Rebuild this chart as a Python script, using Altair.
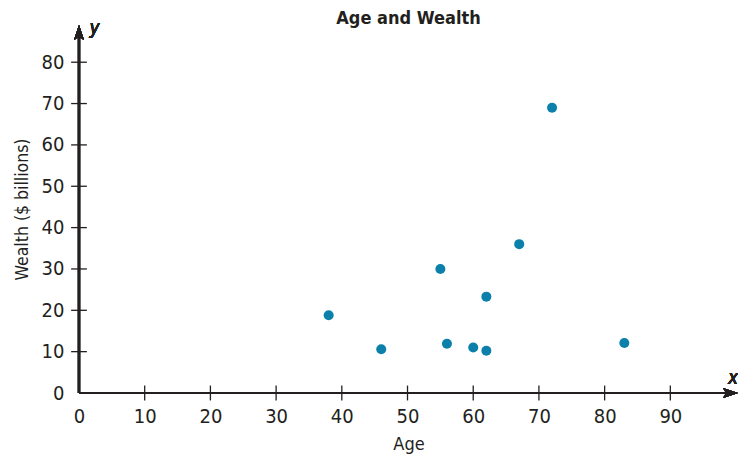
import altair as alt
import pandas as pd

# data
ages = [38, 46, 55, 56, 60, 62, 62, 67, 72, 83]
wealth = [18.8, 10.6, 30.0, 11.9, 11.0, 10.2, 23.3, 36.0, 69.0, 12.1]
x_ticks = [10, 20, 30, 40, 50, 60, 70, 80, 90]
y_ticks = [10, 20, 30, 40, 50, 60, 70, 80]
x_label_vals = [0, 10, 20, 30, 40, 50, 60, 70, 80, 90]
y_label_vals = [0, 10, 20, 30, 40, 50, 60, 70, 80]

XMAX = 100.3
YMAX = 89.0
W, H = 659, 368
FONT = "Liberation Sans Narrow, DejaVu Sans Condensed, Arial Narrow, sans-serif"
AX = "#231f20"
DOT = "#0b80aa"

pts = pd.DataFrame({"Age": ages, "Wealth": wealth})
xt = pd.DataFrame({"v": x_ticks})
yt = pd.DataFrame({"v": y_ticks})

xs = alt.Scale(domain=[0, XMAX], nice=False, zero=False)
ys = alt.Scale(domain=[0, YMAX], nice=False, zero=False)

xaxis = alt.Axis(values=x_label_vals, ticks=False, tickSize=0, domain=False, grid=False,
                 labelFlush=False, labelOverlap=False,
                 labelFont=FONT, labelFontSize=20, labelColor=AX, labelPadding=13,
                 title="Age", titleFont=FONT, titleFontSize=18, titleFontWeight="normal",
                 titleColor=AX, titlePadding=9)
yaxis = alt.Axis(values=y_label_vals, ticks=False, tickSize=0, domain=False, grid=False,
                 labelFlush=False, labelOverlap=False,
                 labelFont=FONT, labelFontSize=20, labelColor=AX, labelPadding=15,
                 title="Wealth ($ billions)", titleFont=FONT, titleFontSize=17.5,
                 titleFontWeight="normal", titleColor=AX, titlePadding=10)

points = alt.Chart(pts).mark_circle(size=100, opacity=1, color=DOT).encode(
    x=alt.X("Age:Q", scale=xs, axis=xaxis),
    y=alt.Y("Wealth:Q", scale=ys, axis=yaxis),
)

x_line = alt.Chart(pts).mark_rule(color=AX, strokeWidth=2.2).encode(
    x=alt.datum(0), x2=alt.datum(XMAX - 1.5), y=alt.datum(0))
y_line = alt.Chart(pts).mark_rule(color=AX, strokeWidth=2.2).encode(
    x=alt.datum(0), y=alt.datum(0), y2=alt.datum(YMAX - 2.5))

x_tick_marks = alt.Chart(xt).mark_rule(color=AX, strokeWidth=1.3).encode(
    x=alt.X("v:Q"), y=alt.datum(-1.8), y2=alt.datum(1.8))
y_tick_marks = alt.Chart(yt).mark_rule(color=AX, strokeWidth=1.3).encode(
    y=alt.Y("v:Q"), x=alt.datum(-1.2), x2=alt.datum(1.2))

arrow_right = "M0,0 L-2,-0.67 L-1.6,0 L-2,0.67 Z"
arrow_up = "M0,0 L-0.67,2 L0,1.6 L0.67,2 Z"

x_arrow = alt.Chart(pts).mark_point(shape=arrow_right, filled=True, opacity=1,
                                    size=225, color=AX, strokeWidth=0).encode(
    x=alt.datum(XMAX), y=alt.datum(0))
y_arrow = alt.Chart(pts).mark_point(shape=arrow_up, filled=True, opacity=1,
                                    size=225, color=AX, strokeWidth=0).encode(
    x=alt.datum(0), y=alt.datum(YMAX))

y_name = alt.Chart(pts).mark_text(text="y", font=FONT, fontSize=19, fontStyle="italic",
                                  color=AX, align="left", baseline="middle").encode(
    x=alt.datum(1.6), y=alt.datum(88.2))
x_name = alt.Chart(pts).mark_text(text="x", font=FONT, fontSize=19, fontStyle="italic",
                                  color=AX, align="right", baseline="middle").encode(
    x=alt.datum(XMAX), y=alt.datum(3.6))

chart = alt.layer(
    points, x_line, y_line, x_tick_marks, y_tick_marks, x_arrow, y_arrow, y_name, x_name
).properties(
    width=W, height=H,
    background="white",
    title=alt.TitleParams("Age and Wealth", font=FONT, fontSize=18, fontWeight="bold",
                          color=AX, anchor="middle", baseline="alphabetic", offset=-23),
    autosize=alt.AutoSizeParams(type="none"),
    padding={"left": 71, "top": 17, "right": 0, "bottom": 61},
).configure_view(strokeWidth=0, stroke="transparent").configure_axis(grid=False)

chart.save("out.html", embed_options={"renderer": "svg", "actions": False})
